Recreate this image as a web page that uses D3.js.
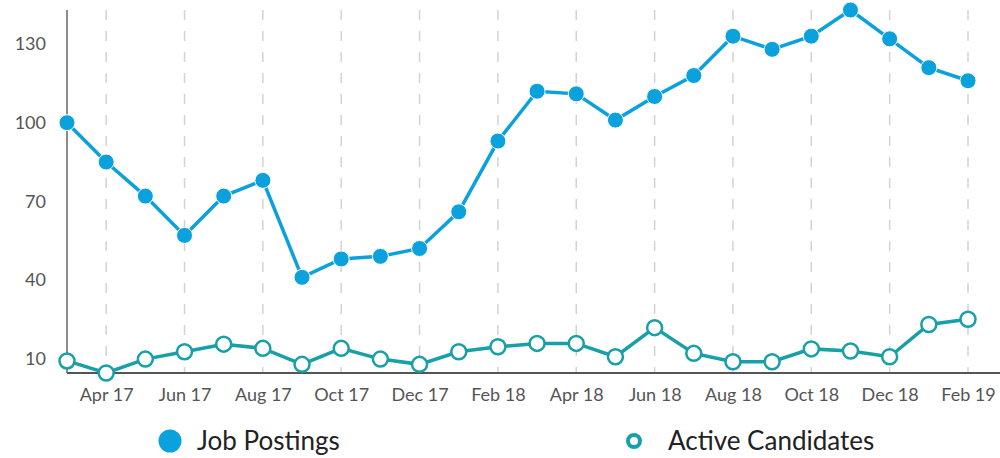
<!DOCTYPE html>
<html>
<head>
<meta charset="utf-8">
<script src="https://cdn.jsdelivr.net/npm/d3@7"></script>
<style>
    body { margin: 0; background: #fff; }
    text { font-family: Lato, "Open Sans", sans-serif; }
</style>
</head>
<body>
<div id="chart"></div>
<script>
// months shown on the x axis (one point per month)
var months = ["Mar 17", "Apr 17", "May 17", "Jun 17", "Jul 17", "Aug 17", "Sep 17", "Oct 17",
    "Nov 17", "Dec 17", "Jan 18", "Feb 18", "Mar 18", "Apr 18", "May 18", "Jun 18",
    "Jul 18", "Aug 18", "Sep 18", "Oct 18", "Nov 18", "Dec 18", "Jan 19", "Feb 19"];

var jobPostings = [100, 85, 72, 57, 72, 78, 41, 48, 49, 52, 66, 93,
    112, 111, 101, 110, 118, 133, 128, 133, 143, 132, 121, 116];

var activeCandidates = [9.1, 4.5, 9.8, 12.6, 15.5, 13.9, 7.8, 13.9, 9.8, 7.8, 12.6, 14.5,
    15.8, 15.8, 10.7, 21.8, 12.0, 8.8, 8.8, 13.7, 12.9, 10.7, 23.0, 25.0];

var yTicks = [10, 40, 70, 100, 130];
var xTicks = ["Apr 17", "Jun 17", "Aug 17", "Oct 17", "Dec 17", "Feb 18",
    "Apr 18", "Jun 18", "Aug 18", "Oct 18", "Dec 18", "Feb 19"];

var seriesNames = ["Job Postings", "Active Candidates"];

var width = 1000, height = 458;
var plotLeft = 67, plotRight = 968, plotTop = 10, plotBottom = 373;

var blue = "#0aa1dd";
var teal = "#17a0a8";

var svg = d3.select("#chart").append("svg")
    .attr("width", width)
    .attr("height", height);

var x = d3.scalePoint()
    .domain(months)
    .range([plotLeft, plotRight]);

var all = jobPostings.concat(activeCandidates);
var y = d3.scaleLinear()
    .domain(d3.extent(all))
    .range([plotBottom, plotTop]);

// dashed gridlines every other month
svg.append("g")
    .selectAll("line")
    .data(xTicks)
    .enter()
    .append("line")
    .attr("x1", function(d) { return x(d); })
    .attr("x2", function(d) { return x(d); })
    .attr("y1", plotTop)
    .attr("y2", plotBottom)
    .attr("stroke", "#d3d3d3")
    .attr("stroke-width", 1.5)
    .attr("stroke-dasharray", "10,11");

// x axis
var xAxis = d3.axisBottom(x)
    .tickValues(xTicks)
    .tickSize(0)
    .tickPadding(15);
var gx = svg.append("g")
    .attr("transform", "translate(0," + plotBottom + ")")
    .call(xAxis);
gx.select(".domain").remove();
gx.selectAll("text")
    .attr("fill", "#555")
    .style("font-size", "18px");
svg.append("line")
    .attr("x1", plotLeft).attr("x2", width)
    .attr("y1", plotBottom).attr("y2", plotBottom)
    .attr("stroke", "#555")
    .attr("stroke-width", 2);

// y axis
var yAxis = d3.axisLeft(y)
    .tickValues(yTicks)
    .tickSize(0)
    .tickPadding(21);
var gy = svg.append("g")
    .attr("transform", "translate(" + plotLeft + ",0)")
    .call(yAxis);
gy.select(".domain").remove();
gy.selectAll("text")
    .attr("fill", "#555")
    .style("font-size", "18px");
svg.append("line")
    .attr("x1", plotLeft).attr("x2", plotLeft)
    .attr("y1", plotTop).attr("y2", plotBottom)
    .attr("stroke", "#666")
    .attr("stroke-width", 1.5);

var line = d3.line()
    .x(function(d, i) { return x(months[i]); })
    .y(function(d) { return y(d); });

// job postings
svg.append("path")
    .datum(jobPostings)
    .attr("fill", "none")
    .attr("stroke", blue)
    .attr("stroke-width", 3.5)
    .attr("d", line);
svg.append("g")
    .selectAll("circle")
    .data(jobPostings)
    .enter()
    .append("circle")
    .attr("cx", function(d, i) { return x(months[i]); })
    .attr("cy", function(d) { return y(d); })
    .attr("r", 8)
    .attr("fill", blue)
    .attr("stroke", "#fff")
    .attr("stroke-width", 1);

// active candidates
svg.append("path")
    .datum(activeCandidates)
    .attr("fill", "none")
    .attr("stroke", teal)
    .attr("stroke-width", 3.5)
    .attr("d", line);
svg.append("g")
    .selectAll("circle")
    .data(activeCandidates)
    .enter()
    .append("circle")
    .attr("cx", function(d, i) { return x(months[i]); })
    .attr("cy", function(d) { return y(d); })
    .attr("r", 7.5)
    .attr("fill", "#fff")
    .attr("stroke", teal)
    .attr("stroke-width", 2.5);

// legend
var legend = svg.append("g");
legend.append("circle")
    .attr("cx", 170).attr("cy", 441)
    .attr("r", 11.5)
    .attr("fill", blue);
legend.append("text")
    .attr("x", 197).attr("y", 441)
    .attr("dy", "0.35em")
    .attr("fill", "#222")
    .style("font-size", "26px")
    .text(seriesNames[0]);
legend.append("circle")
    .attr("cx", 634).attr("cy", 441)
    .attr("r", 6)
    .attr("fill", "#fff")
    .attr("stroke", teal)
    .attr("stroke-width", 4);
legend.append("text")
    .attr("x", 668).attr("y", 441)
    .attr("dy", "0.35em")
    .attr("fill", "#222")
    .style("font-size", "26px")
    .text(seriesNames[1]);
</script>
</body>
</html>
